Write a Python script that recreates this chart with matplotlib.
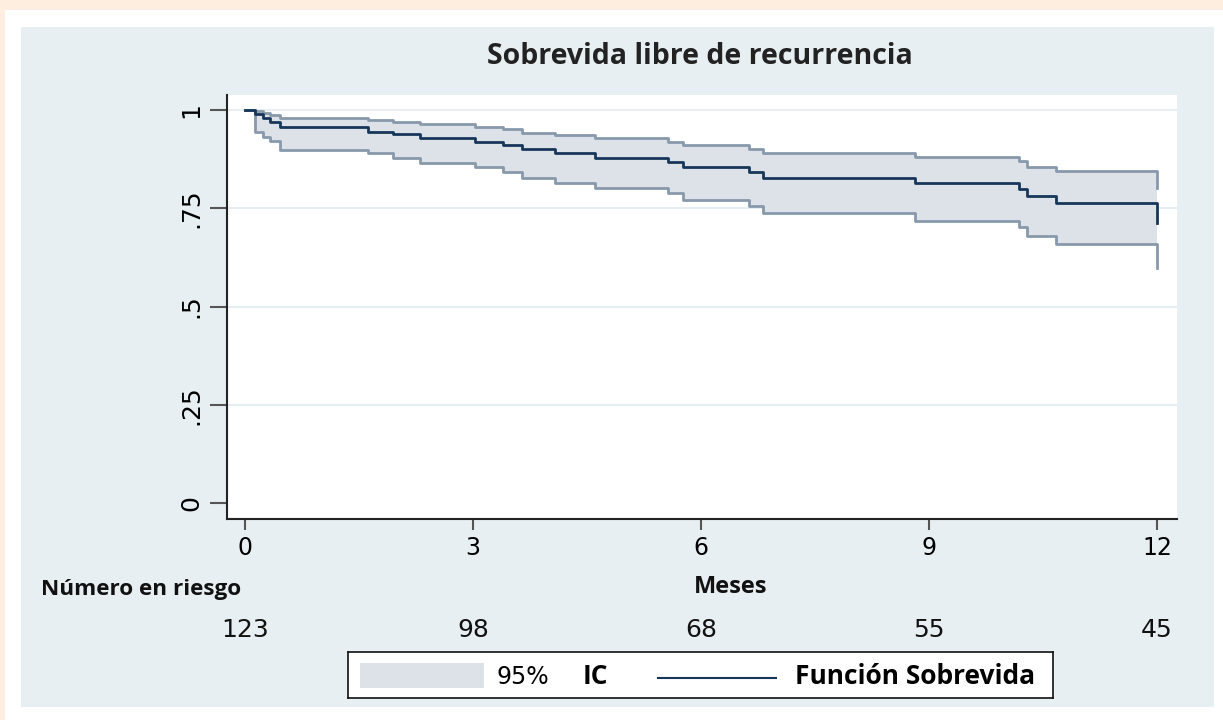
import matplotlib
matplotlib.use("Agg")
import matplotlib.pyplot as plt
from matplotlib.patches import Rectangle
from matplotlib.lines import Line2D
import matplotlib.transforms as mtransforms

# ---- data ----
times = [0.0, 0.13, 0.24, 0.33, 0.46, 1.62, 1.95, 2.30, 3.02, 3.39, 3.65, 4.08,
         4.61, 5.56, 5.76, 6.63, 6.82, 8.82, 10.18, 10.29, 10.67, 12.0]
survival = [1.0, 0.990, 0.980, 0.969, 0.956, 0.945, 0.938, 0.930, 0.919, 0.912, 0.900, 0.890,
            0.879, 0.868, 0.854, 0.843, 0.828, 0.815, 0.798, 0.782, 0.763, 0.713]
upper_ci = [1.0, 0.998, 0.993, 0.988, 0.980, 0.975, 0.969, 0.964, 0.958, 0.951, 0.942, 0.936,
            0.928, 0.919, 0.911, 0.900, 0.891, 0.880, 0.869, 0.854, 0.845, 0.801]
lower_ci = [1.0, 0.943, 0.932, 0.921, 0.898, 0.890, 0.877, 0.866, 0.854, 0.843, 0.828, 0.815,
            0.801, 0.788, 0.770, 0.756, 0.739, 0.718, 0.703, 0.680, 0.658, 0.597]
xticks = [0, 3, 6, 9, 12]
yticks = [0, 0.25, 0.5, 0.75, 1]
ytick_labels = ["0", ".25", ".5", ".75", "1"]
at_risk = ["123", "98", "68", "55", "45"]

W, H = 1223, 720
fig = plt.figure(figsize=(W / 100, H / 100), dpi=100)
fig.patch.set_facecolor("#fdeedf")

def px_rect(x0, y0, x1, y1, color):
    fig.patches.append(Rectangle((x0 / W, 1 - y1 / H), (x1 - x0) / W, (y1 - y0) / H,
                                 transform=fig.transFigure, facecolor=color,
                                 edgecolor="none", zorder=-10))

px_rect(5, 10, W, H, "white")
px_rect(21, 27, 1214, 707, "#e8eff2")

ax = fig.add_axes([227 / W, 1 - 519 / H, (1177 - 227) / W, (519 - 95) / H])
ax.set_facecolor("white")
ax.set_xlim(-18 / 76, 12 + 20 / 76)
ax.set_ylim(-16 / 393, 1 + 15 / 393)

for y in yticks[1:]:
    ax.axhline(y, color="#e3ebef", lw=1.2, zorder=0)

ci_fill = "#dde2e9"
ci_line = "#8799ab"
navy = "#17375a"
ax.fill_between(times, lower_ci, upper_ci, step="post", color=ci_fill, lw=0, zorder=1)
ax.step(times, upper_ci, where="post", color=ci_line, lw=2, zorder=2)
ax.step(times, lower_ci, where="post", color=ci_line, lw=2, zorder=2)
ax.step(times, survival, where="post", color=navy, lw=2, zorder=3)

for s in ["top", "right"]:
    ax.spines[s].set_visible(False)
for s in ["left", "bottom"]:
    ax.spines[s].set_color("#222222")
    ax.spines[s].set_linewidth(1.5)

num_font = "DejaVu Sans"
ax.set_xticks(xticks)
ax.set_xticklabels([str(v) for v in xticks], fontfamily=num_font, fontsize=17)
ax.set_yticks(yticks)
ax.set_yticklabels(ytick_labels, fontfamily=num_font, fontsize=18,
                   rotation=90, va="center")
ax.tick_params(axis="y", length=12, width=1.5, color="#555555", pad=5)
ax.tick_params(axis="x", length=8, width=1.5, color="#555555", pad=4)

# title
fig.text(700 / W, 1 - 57 / H, "Sobrevida libre de recurrencia", ha="center", va="center",
         fontfamily="Open Sans", fontweight="bold", fontsize=20.5, color="#222222")

# risk table
fig.text(41 / W, 1 - 590 / H, "Número en riesgo", ha="left", va="center",
         fontfamily="Open Sans", fontweight="bold", fontsize=16.2, color="#111111")
fig.text(731 / W, 1 - 587 / H, "Meses", ha="center", va="center",
         fontfamily="Open Sans", fontweight="bold", fontsize=17, color="#111111")
trans = mtransforms.blended_transform_factory(ax.transData, fig.transFigure)
for xv, lab in zip(xticks, at_risk):
    ax.text(xv, 1 - 630 / H, lab, transform=trans, ha="center", va="center",
            fontfamily=num_font, fontsize=18, color="#111111", clip_on=False)

# legend
lx0, ly0, lx1, ly1 = 348, 652, 1053, 698
lax = fig.add_axes([lx0 / W, 1 - ly1 / H, (lx1 - lx0) / W, (ly1 - ly0) / H])
lax.set_xlim(lx0, lx1)
lax.set_ylim(ly1, ly0)
lax.set_xticks([])
lax.set_yticks([])
lax.set_facecolor("white")
for s in lax.spines.values():
    s.set_color("#111111")
    s.set_linewidth(1.2)
lax.add_patch(Rectangle((360, 663), 124, 25, facecolor=ci_fill, edgecolor="none"))
lax.text(497, 677, "95%", ha="left", va="center", fontfamily=num_font, fontsize=17)
lax.text(583, 677, "IC", ha="left", va="center", fontfamily="Open Sans",
         fontweight="bold", fontsize=19)
lax.add_line(Line2D([658, 776], [678, 678], color=navy, lw=1.5))
lax.text(795, 677, "Función Sobrevida", ha="left", va="center", fontfamily="Open Sans",
         fontweight="bold", fontsize=19)

fig.savefig("out.png", dpi=100, facecolor=fig.get_facecolor())
